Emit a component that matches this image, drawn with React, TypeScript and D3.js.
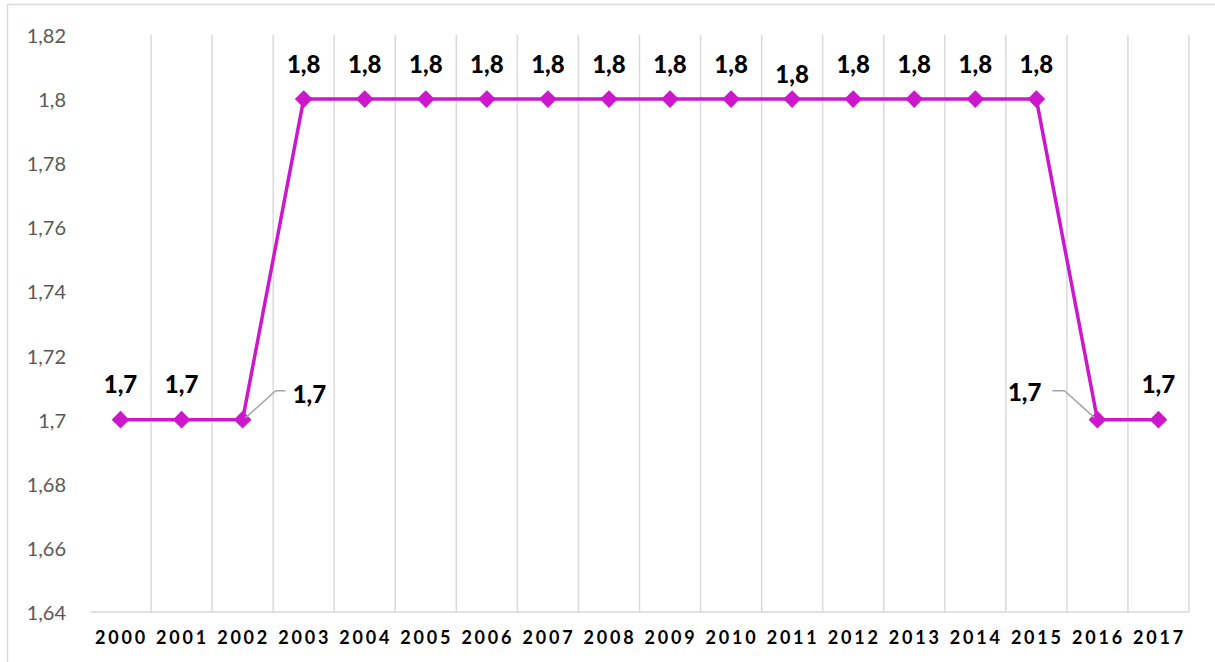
import React from 'react'
import * as d3 from 'd3'

const years = ['2000', '2001', '2002', '2003', '2004', '2005', '2006', '2007', '2008', '2009',
  '2010', '2011', '2012', '2013', '2014', '2015', '2016', '2017']
const values = [1.7, 1.7, 1.7, 1.8, 1.8, 1.8, 1.8, 1.8, 1.8, 1.8, 1.8, 1.8, 1.8, 1.8, 1.8, 1.8, 1.7, 1.7]
const yTicks = [1.64, 1.66, 1.68, 1.7, 1.72, 1.74, 1.76, 1.78, 1.8, 1.82]

const W = 1215
const H = 662
const left = 90
const right = 1189
const top = 35
const bottom = 612
const lineColor = '#CC17CC'
const font = 'Lato, "Open Sans", sans-serif'

const fmt = (v: number) => String(+v.toFixed(2)).replace('.', ',')

const App = () => {
  const x = d3.scaleBand().domain(years).range([left, right])
  const y = d3.scaleLinear().domain([1.64, 1.82]).range([bottom, top])
  const cx = (yr: string) => (x(yr) as number) + x.bandwidth() / 2

  const line = d3.line<number>()
    .x((d, i) => cx(years[i]))
    .y(d => y(d))

  const diamond = d3.symbol().type(d3.symbolDiamond2).size(200)()

  // label placement, mostly above the point, a few pushed aside like Excel did
  const labelPos = (i: number) => {
    const px = cx(years[i])
    const py = y(values[i])
    if (years[i] === '2002') return {lx: px + 50, ly: py - 26, anchor: 'start', leader: true}
    if (years[i] === '2016') return {lx: px - 56, ly: py - 28, anchor: 'end', leader: true}
    if (years[i] === '2011') return {lx: px, ly: py - 26, anchor: 'middle', leader: false}
    return {lx: px, ly: py - 36, anchor: 'middle', leader: false}
  }

  return (
    <svg width={W} height={H} style={{position: 'absolute', left: 0, top: 0, background: '#fff'}}>
      <rect x={7.5} y={4.5} width={W + 10} height={H + 10} fill="none" stroke="#d9d9d9" strokeWidth={1.5}/>

      {/* vertical gridlines at category boundaries */}
      {years.map((yr, i) => (
        <line key={'g' + i} x1={(x(yr) as number) + x.bandwidth()} x2={(x(yr) as number) + x.bandwidth()}
          y1={top} y2={bottom} stroke="#d9d9d9" strokeWidth={1.5}/>
      ))}
      <line x1={left} x2={right} y1={bottom} y2={bottom} stroke="#d9d9d9" strokeWidth={1.5}/>

      {yTicks.map(t => (
        <text key={'y' + t} x={66} y={y(t)} textAnchor="end" dominantBaseline="central"
          fontFamily={font} fontSize={20} fill="#595959">{fmt(t)}</text>
      ))}

      {years.map(yr => (
        <text key={'x' + yr} x={cx(yr) + 1} y={637} textAnchor="middle" dominantBaseline="central"
          fontFamily={font} fontSize={18} fontWeight="bold" letterSpacing={2.8} fill="#000">{yr}</text>
      ))}

      <path d={line(values) as string} fill="none" stroke={lineColor} strokeWidth={3.5}/>
      {values.map((v, i) => (
        <path key={'m' + i} d={diamond as string} transform={`translate(${cx(years[i])},${y(v)})`} fill={lineColor}/>
      ))}

      {values.map((v, i) => {
        const p = labelPos(i)
        const px = cx(years[i])
        const py = y(v)
        return (
          <g key={'l' + i}>
            {p.leader && p.anchor === 'start' && (
              <polyline points={`${px + 3},${py - 2} ${px + 33},${py - 29} ${px + 43},${py - 29}`}
                fill="none" stroke="#a6a6a6" strokeWidth={1.5}/>
            )}
            {p.leader && p.anchor === 'end' && (
              <polyline points={`${px - 45},${py - 29} ${px - 33},${py - 29} ${px - 3},${py - 2}`}
                fill="none" stroke="#a6a6a6" strokeWidth={1.5}/>
            )}
            <text x={p.lx} y={p.ly} textAnchor={p.anchor} dominantBaseline="central"
              fontFamily={font} fontSize={24} fontWeight={900} fill="#000">{fmt(v)}</text>
          </g>
        )
      })}
    </svg>
  )
}

export default App
